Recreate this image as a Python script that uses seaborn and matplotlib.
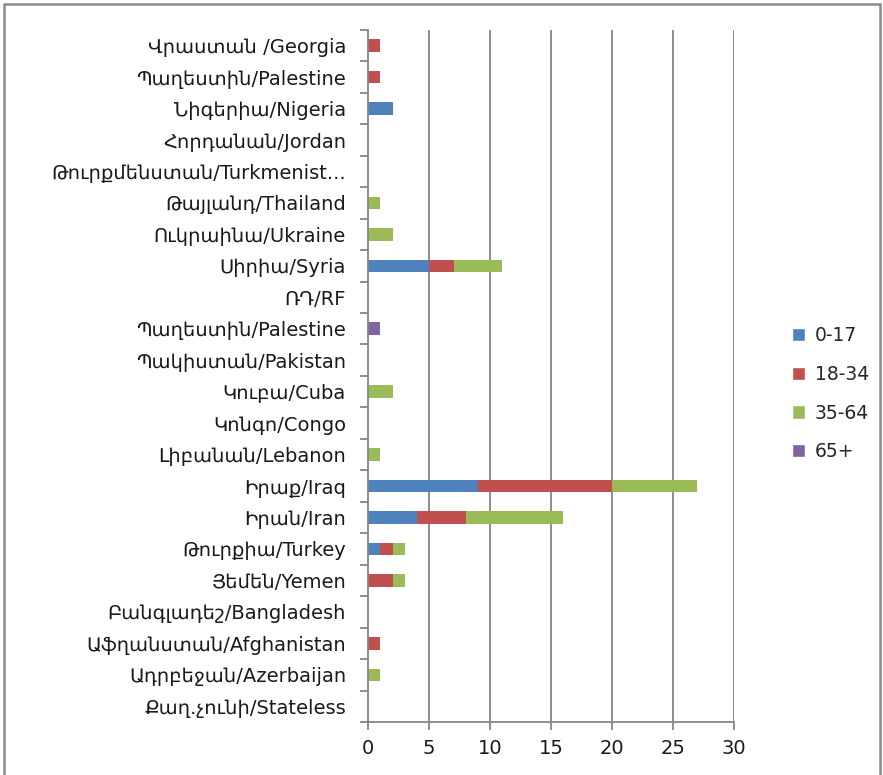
import pandas as pd
import numpy as np
import seaborn as sns
import matplotlib.pyplot as plt
from matplotlib.patches import Patch, Rectangle

# countries, top to bottom
countries = ['Վրաստան /Georgia', 'Պաղեստին/Palestine', 'Նիգերիա/Nigeria',
             'Հորդանան/Jordan', 'Թուրքմենստան/Turkmenist...', 'Թայլանդ/Thailand',
             'Ուկրաինա/Ukraine', 'Սիրիա/Syria', 'ՌԴ/RF', 'Պաղեստին/Palestine',
             'Պակիստան/Pakistan', 'Կուբա/Cuba', 'Կոնգո/Congo', 'Լիբանան/Lebanon',
             'Իրաք/Iraq', 'Իրան/Iran', 'Թուրքիա/Turkey', 'Յեմեն/Yemen',
             'Բանգլադեշ/Bangladesh', 'Աֆղանստան/Afghanistan', 'Ադրբեջան/Azerbaijan',
             'Քաղ.չունի/Stateless']

ages = ['0-17', '18-34', '35-64', '65+']
age_0_17  = [0, 0, 2, 0, 0, 0, 0, 5, 0, 0, 0, 0, 0, 0, 9, 4, 1, 0, 0, 0, 0, 0]
age_18_34 = [1, 1, 0, 0, 0, 0, 0, 2, 0, 0, 0, 0, 0, 0, 11, 4, 1, 2, 0, 1, 0, 0]
age_35_64 = [0, 0, 0, 0, 0, 1, 2, 4, 0, 0, 0, 2, 0, 1, 7, 8, 1, 1, 0, 0, 1, 0]
age_65    = [0, 0, 0, 0, 0, 0, 0, 0, 0, 1, 0, 0, 0, 0, 0, 0, 0, 0, 0, 0, 0, 0]

colors = {'0-17': '#4F81BD', '18-34': '#C0504D', '35-64': '#9BBB59', '65+': '#8064A2'}

rows = []
for age, vals in zip(ages, [age_0_17, age_18_34, age_35_64, age_65]):
    for i, v in enumerate(vals):
        rows.append({'pos': i, 'age': age, 'count': v})
df = pd.DataFrame(rows)

sns.set_style('white')
plt.rcParams['font.family'] = ['DejaVu Sans']

fig = plt.figure(figsize=(8.83, 7.75), dpi=100)
ax = fig.add_axes([0.417, 0.0684, 0.414, 0.893])

# gridlines behind bars
for gx in range(5, 35, 5):
    ax.axvline(gx, color='#868686', lw=1.3, zorder=0)

# seaborn stacks the last hue level first, so reverse the order
sns.histplot(data=df, y='pos', hue='age', weights='count', hue_order=ages[::-1],
             palette=colors, multiple='stack', discrete=True, shrink=0.4,
             linewidth=0, alpha=1, legend=False, ax=ax)

ax.set_xlim(0, 30)
ax.set_ylim(len(countries) - 0.5, -0.5)
ax.set_xticks(range(0, 35, 5))
ax.set_yticks(range(len(countries)))
ax.set_yticklabels(countries, fontsize=14, color='#1a1a1a')
ax.set_yticks(np.arange(-0.5, len(countries), 1), minor=True)
ax.tick_params(axis='y', which='major', length=0, pad=16)
ax.tick_params(axis='y', which='minor', length=6, color='#868686', width=1.3, left=True)
ax.tick_params(axis='x', length=6, color='#868686', width=1.3, bottom=True,
               labelsize=14, labelcolor='#1a1a1a', pad=6)
ax.set_xlabel('')
ax.set_ylabel('')
for s in ['top', 'right']:
    ax.spines[s].set_visible(False)
for s in ['left', 'bottom']:
    ax.spines[s].set_color('#868686')
    ax.spines[s].set_linewidth(1.3)

handles = [Patch(facecolor=colors[a], label=a) for a in ages]
fig.legend(handles=handles, loc='center left', bbox_to_anchor=(0.878, 0.492),
           frameon=False, fontsize=13.5, handlelength=0.7, handleheight=0.7,
           labelspacing=1.05, handletextpad=0.5)

fig.patches.append(Rectangle((4 / 883, -0.01), 876 / 883, 1 - 4 / 775 + 0.01,
                             transform=fig.transFigure, fill=False,
                             edgecolor='#8c8c8c', lw=1.8))

fig.savefig('out.png', dpi=100)
